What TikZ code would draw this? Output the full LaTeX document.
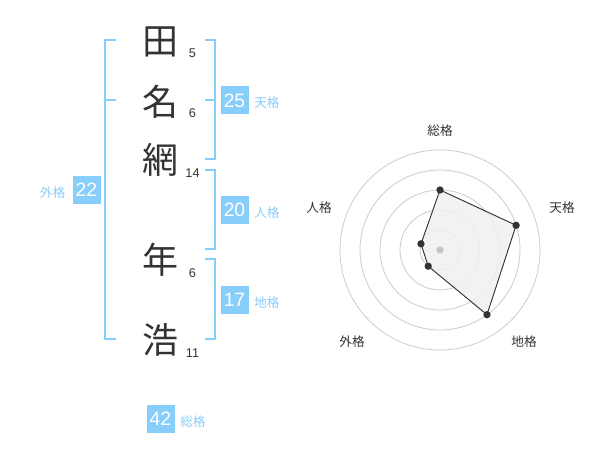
\documentclass[tikz,border=0pt]{standalone}
\usepackage{fontspec}
\setmainfont{Liberation Sans}
\newfontfamily\jp{Noto Sans CJK JP}
\definecolor{lb}{HTML}{87CEFA}
\definecolor{ink}{HTML}{333333}
\begin{document}
\begin{tikzpicture}[x=0.75pt,y=-0.75pt,
 kanji/.style={font=\jp\fontsize{27}{27}\selectfont, text=ink, inner sep=0pt},
 strokes/.style={font=\fontsize{9.5}{10}\selectfont, text=ink, inner sep=0pt},
 numbox/.style={fill=lb, text=white, minimum size=21pt, inner sep=0pt, font=\fontsize{14.5}{15}\selectfont},
 kaku/.style={font=\jp\fontsize{9.5}{10}\selectfont, text=lb, inner sep=0pt},
 brk/.style={draw=lb, line width=1.5pt},
 ring/.style={draw=black!20, line width=0.6pt},
 axlabel/.style={font=\jp\fontsize{9.5}{10}\selectfont, text=ink, inner sep=0pt},
 dot/.style={circle, fill=ink, inner sep=0pt, minimum size=5.5pt}]
\fill[white] (0,0) rectangle (600,470);
\useasboundingbox (0,0) rectangle (600,470);
% name characters
\node[kanji] (c1) at (160,42) {田};
\node[kanji] (c2) at (160,102) {名};
\node[kanji] (c3) at (160,160) {網};
\node[kanji] (c4) at (160,260) {年};
\node[kanji] (c5) at (160,340) {浩};
\node[strokes] (s1) at (192.5,53) {5};
\node[strokes] (s2) at (192.5,113) {6};
\node[strokes] (s3) at (192.5,173.5) {14};
\node[strokes] (s4) at (192.5,273) {6};
\node[strokes] (s5) at (192.5,353) {11};
% brackets
\draw[brk] (116,40) -- (105,40) -- (105,339.5) -- (116,339.5);
\draw[brk] (105,100) -- (116,100);
\draw[brk] (205,40) -- (214.5,40) -- (214.5,159.5) -- (205,159.5);
\draw[brk] (205,100) -- (214.5,100);
\draw[brk] (205,170) -- (214.5,170) -- (214.5,249.5) -- (205,249.5);
\draw[brk] (205,259.5) -- (214.5,259.5) -- (214.5,339.5) -- (205,339.5);
% boxes
\node[numbox] (b1) at (234.5,100.5) {25};
\node[kaku, anchor=west] (l1) at (254,103) {天格};
\node[numbox] (b2) at (234.5,210) {20};
\node[kaku, anchor=west] (l2) at (254,212.5) {人格};
\node[numbox] (b3) at (234.5,300) {17};
\node[kaku, anchor=west] (l3) at (254,302.5) {地格};
\node[numbox] (b4) at (86.5,190) {22};
\node[kaku, anchor=east] (l4) at (65.5,192.5) {外格};
\node[numbox] (b5) at (160.5,419) {42};
\node[kaku, anchor=west] (l5) at (180,421.5) {総格};
% radar
\coordinate (o) at (440,250);
\foreach \r in {15,30,45,60,75} \draw[ring] (o) circle[radius=\r pt];
\coordinate (p1) at (440,190);
\coordinate (p2) at (516.1,225.3);
\coordinate (p3) at (487.0,314.7);
\coordinate (p4) at (428.2,266.2);
\coordinate (p5) at (421.0,243.8);
\fill[black!6, opacity=0.85] (p1) -- (p2) -- (p3) -- (p4) -- (p5) -- cycle;
\fill[black!22] (o) circle[radius=2.8pt];
\draw[ink, line width=0.7pt] (p1) -- (p2) -- (p3) -- (p4) -- (p5) -- cycle;
\foreach \p in {p1,p2,p3,p4,p5} \node[dot] at (\p) {};
\node[axlabel] (a1) at (440,131) {総格};
\node[axlabel] (a2) at (562,208) {天格};
\node[axlabel] (a3) at (524,342) {地格};
\node[axlabel] (a4) at (352,342) {外格};
\node[axlabel] (a5) at (319,208) {人格};
\end{tikzpicture}
\end{document}
